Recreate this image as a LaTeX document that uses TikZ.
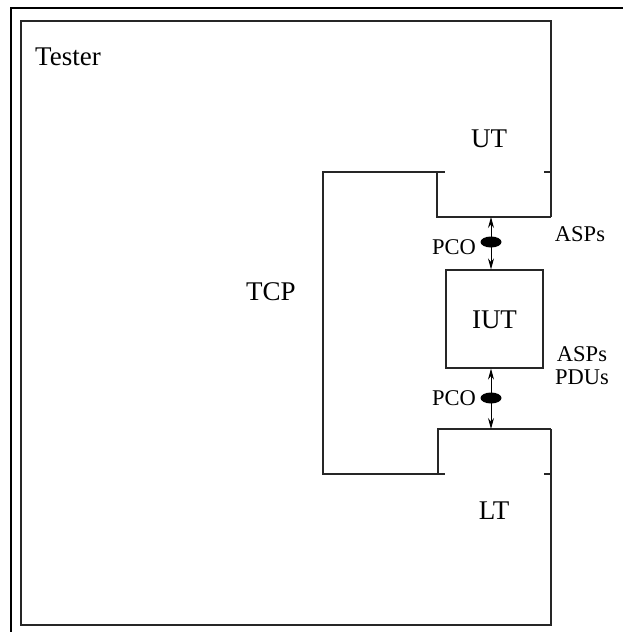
\documentclass[tikz,border=0pt]{standalone}
\usepackage{fontspec}
\setmainfont{Liberation Serif}
\usetikzlibrary{arrows.meta,shapes.geometric}
\begin{document}
\begin{tikzpicture}[x=1pt,y=-1pt,
  frame/.style={line width=2.6pt},
  wall/.style={line width=1.2pt,draw=black!85},
  big/.style={font=\fontsize{27}{30}\selectfont,inner sep=0pt},
  small/.style={font=\fontsize{22.5}{18}\selectfont,inner sep=0pt},
  pco/.style={ellipse,fill=black,minimum width=21pt,minimum height=11pt,inner sep=0pt},
  link/.style={line width=1pt,{Stealth[length=11pt,width=6pt]}-{Stealth[length=11pt,width=6pt]}}]
\useasboundingbox (0,0) rectangle (627,632);
% outer frame (only top and left visible)
\draw[frame] (11,633) -- (11,8) -- (623,8);
% tester outline
\draw[wall] (551,217) -- (551,21) -- (21,21) -- (21,625) -- (551,625) -- (551,429);
% UT box
\coordinate (utl) at (437,172);
\coordinate (utbl) at (437,217);
\coordinate (utbr) at (551,217);
\coordinate (utb) at (491,217);
\draw[wall] (utl) -- (utbl) -- (utbr);
\draw[wall] (437,172) -- (445,172);
\draw[wall] (544,172) -- (551,172);
% LT box
\coordinate (ltl) at (438,474);
\coordinate (lttl) at (438,429);
\coordinate (lttr) at (551,429);
\coordinate (ltt) at (491,429);
\draw[wall] (ltl) -- (lttl) -- (lttr);
\draw[wall] (438,474) -- (445,474);
\draw[wall] (544,474) -- (551,474);
% TCP
\draw[wall] (utl) -- (323,172) -- (323,474) -- (ltl);
% IUT
\node[draw,wall,minimum width=97pt,minimum height=98pt,inner sep=0pt] (iut) at (494.5,319) {};
\node[big] (iutlab) at (494.5,320) {IUT};
% connectors
\draw[link] (utb) -- (utb |- iut.north);
\draw[link] (ltt |- iut.south) -- (ltt);
\node[pco] (p1) at (491,242) {};
\node[pco] (p2) at (491,398) {};
% labels
\node[big] (tester) at (68,57) {Tester};
\node[big] (ut) at (489,139) {UT};
\node[big] (lt) at (494,511) {LT};
\node[big] (tcp) at (271,292) {TCP};
\node[small] (pco1) at (454,247) {PCO};
\node[small] (pco2) at (454,398) {PCO};
\node[small] (asp1) at (580,234) {ASPs};
\node[small,anchor=base,text depth=0pt] (asp2) at (582,361) {ASPs};
\node[small,anchor=base,text depth=0pt] (pdu) at (582,384) {PDUs};
\end{tikzpicture}
\end{document}
